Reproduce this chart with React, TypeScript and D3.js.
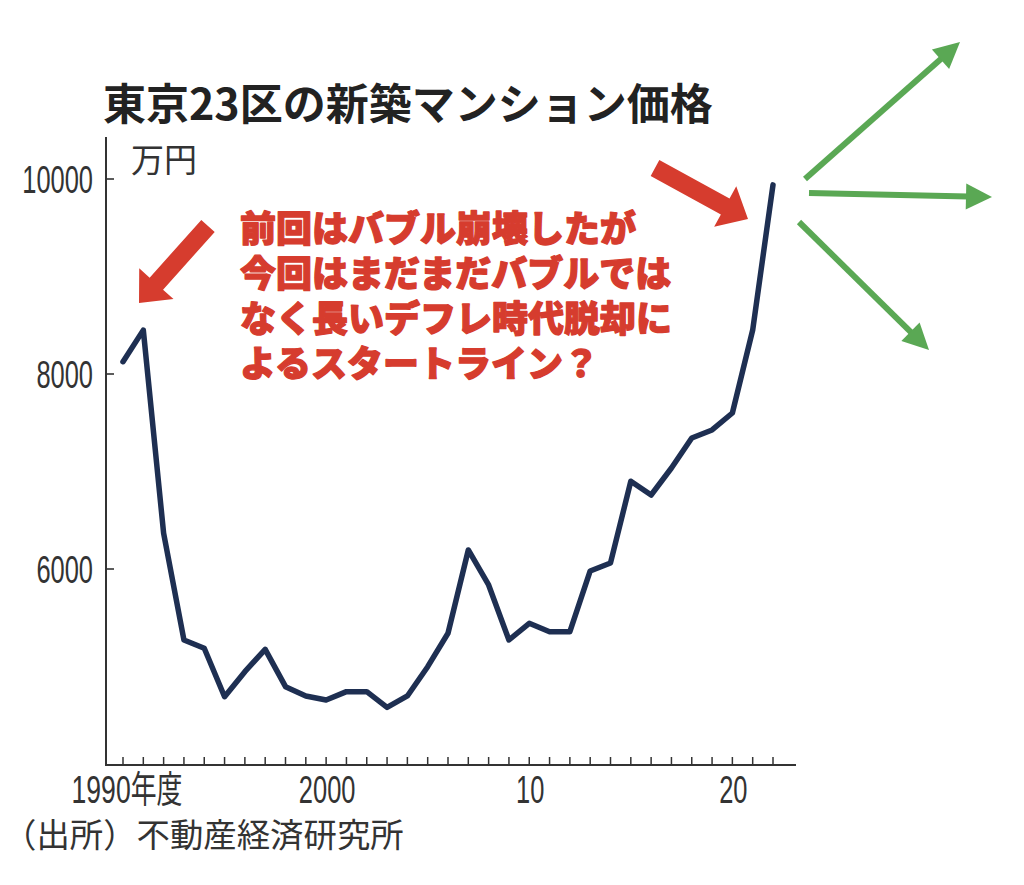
import React from 'react';
import * as d3 from 'd3';

const years = [1990, 1991, 1992, 1993, 1994, 1995, 1996, 1997, 1998, 1999, 2000, 2001, 2002, 2003, 2004, 2005, 2006, 2007, 2008, 2009, 2010, 2011, 2012, 2013, 2014, 2015, 2016, 2017, 2018, 2019, 2020, 2021, 2022];
const prices = [8126, 8450, 6366, 5272, 5187, 4690, 4947, 5176, 4793, 4698, 4656, 4742, 4742, 4580, 4698, 4998, 5341, 6195, 5836, 5272, 5443, 5357, 5357, 5980, 6062, 6900, 6759, 7036, 7344, 7426, 7600, 8451, 9940];
const yTicks = [6000, 8000, 10000];
const xLabelYears = [1990, 2000, 2010, 2020];
const xLabelTexts = ['1990', '2000', '10', '20'];
const title = '東京23区の新築マンション価格';
const unitLabel = '万円';
const sourceLabel = '（出所）不動産経済研究所';
const noteLines = ['前回はバブル崩壊したが', '今回はまだまだバブルでは', 'なく長いデフレ時代脱却に', 'よるスタートライン？'];

const redArrows = [
  { from: [208, 226], to: [139, 303] },
  { from: [655, 168], to: [748, 219] },
];
const greenArrows = [
  { from: [805, 179], to: [960, 42] },
  { from: [809, 193], to: [992, 197] },
  { from: [799, 222], to: [929, 350] },
];

const CJK = '"Noto Sans CJK JP", "Noto Sans", sans-serif';
const NUM = '"Liberation Sans", "Noto Sans CJK JP", sans-serif';

function blockArrow(from: number[], to: number[], shaftHalf: number, headHalf: number, headLen: number) {
  const dx = to[0] - from[0];
  const dy = to[1] - from[1];
  const len = Math.hypot(dx, dy);
  const ux = dx / len, uy = dy / len;
  const px = -uy, py = ux;
  const bx = to[0] - ux * headLen, by = to[1] - uy * headLen;
  const pts = [
    [from[0] + px * shaftHalf, from[1] + py * shaftHalf],
    [bx + px * shaftHalf, by + py * shaftHalf],
    [bx + px * headHalf, by + py * headHalf],
    [to[0], to[1]],
    [bx - px * headHalf, by - py * headHalf],
    [bx - px * shaftHalf, by - py * shaftHalf],
    [from[0] - px * shaftHalf, from[1] - py * shaftHalf],
  ];
  return 'M' + pts.map((p) => p.join(',')).join('L') + 'Z';
}

function lineArrow(from: number[], to: number[], headHalf: number, headLen: number) {
  const dx = to[0] - from[0];
  const dy = to[1] - from[1];
  const len = Math.hypot(dx, dy);
  const ux = dx / len, uy = dy / len;
  const px = -uy, py = ux;
  const bx = to[0] - ux * headLen, by = to[1] - uy * headLen;
  return {
    shaft: [from[0], from[1], bx + ux * 2, by + uy * 2],
    head: `M${to[0]},${to[1]}L${bx + px * headHalf},${by + py * headHalf}L${bx - px * headHalf},${by - py * headHalf}Z`,
  };
}

export default function App() {
  const x = d3.scaleLinear().domain([1990, 2022]).range([123, 773]);
  const y = d3.scaleLinear().domain([4000, 10000]).range([764, 179]);
  const data = years.map((yr, i) => ({ yr, v: prices[i] }));
  const line = d3
    .line<{ yr: number; v: number }>()
    .x((d) => x(d.yr))
    .y((d) => y(d.v))
    .curve(d3.curveLinear);

  const axisX = 106;
  const axisY = 765;
  const red = '#d63c2e';
  const green = '#5aa854';
  const navy = '#1e2f52';
  const sx = 0.67;

  return (
    <svg
      width={1024}
      height={885}
      style={{ position: 'absolute', left: 0, top: 0, background: '#fff' }}
    >
      <rect x={0} y={0} width={1024} height={885} fill="#fff" />
      <text x={103} y={120} fontFamily={CJK} fontWeight={700} fontSize={43} fill="#222">
        {title}
      </text>
      <text x={131} y={172} fontFamily={CJK} fontSize={33} fill="#333">
        {unitLabel}
      </text>

      {/* axes */}
      <line x1={axisX} y1={137} x2={axisX} y2={axisY} stroke="#333" strokeWidth={2} />
      <line x1={axisX - 1} y1={axisY} x2={796} y2={axisY} stroke="#333" strokeWidth={2} />
      {yTicks.map((t) => (
        <g key={t}>
          <line x1={axisX} x2={axisX + 8} y1={y(t)} y2={y(t)} stroke="#333" strokeWidth={1.6} />
          <text
            transform={`translate(93,${y(t) + 13.5}) scale(${sx},1)`}
            textAnchor="end"
            fontFamily={NUM}
            fontSize={38}
            fill="#333"
          >
            {t}
          </text>
        </g>
      ))}
      {years.map((yr) => (
        <line key={yr} x1={x(yr)} x2={x(yr)} y1={axisY} y2={axisY - 8} stroke="#333" strokeWidth={1.5} />
      ))}
      {xLabelYears.map((yr, i) => (
        <text
          key={yr}
          transform={`translate(${x(yr) + (i === 0 ? 4 : 1)},803) scale(${i === 0 ? 0.7 : sx},1)`}
          textAnchor="middle"
          fontFamily={NUM}
          fontSize={38}
          fill="#333"
        >
          {xLabelTexts[i]}
          {i === 0 ? <tspan fontFamily={CJK} fontSize={37}>年度</tspan> : null}
        </text>
      ))}

      <text x={3} y={847} fontFamily={CJK} fontSize={33.4} fill="#333">
        {sourceLabel}
      </text>

      {/* data line */}
      <path
        d={line(data) || ''}
        fill="none"
        stroke={navy}
        strokeWidth={5.5}
        strokeLinejoin="round"
        strokeLinecap="round"
      />

      {/* annotation text */}
      <text
        x={240}
        y={242}
        fontFamily={CJK}
        fontWeight={900}
        fontSize={36}
        fill={red}
        stroke={red}
        strokeWidth={1.3}
        strokeLinejoin="round"
      >
        {noteLines.map((s, i) => (
          <tspan key={i} x={240} y={242 + i * 45}>
            {s}
          </tspan>
        ))}
      </text>

      {redArrows.map((a, i) => (
        <path key={i} d={blockArrow(a.from, a.to, 9, 23, 26)} fill={red} />
      ))}
      {greenArrows.map((a, i) => {
        const g = lineArrow(a.from, a.to, 13, 26);
        return (
          <g key={i}>
            <line x1={g.shaft[0]} y1={g.shaft[1]} x2={g.shaft[2]} y2={g.shaft[3]} stroke={green} strokeWidth={6} />
            <path d={g.head} fill={green} />
          </g>
        );
      })}
    </svg>
  );
}
